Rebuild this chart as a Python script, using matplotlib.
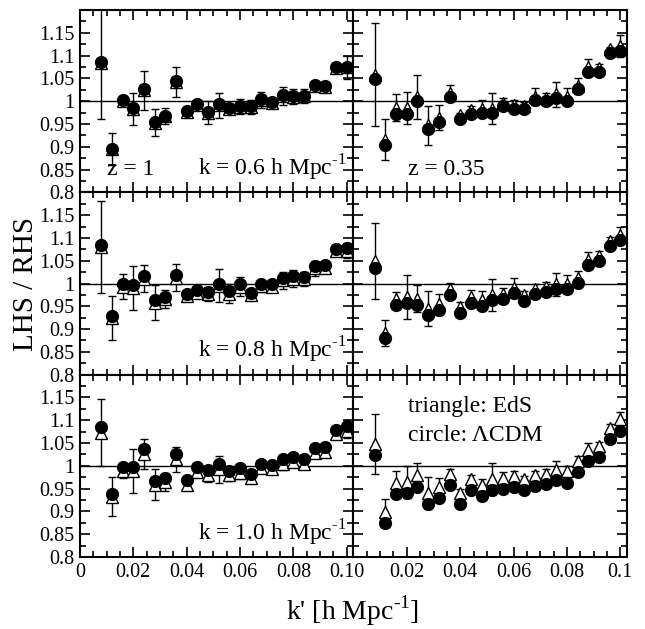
import matplotlib
matplotlib.use('Agg')
import matplotlib.pyplot as plt
from matplotlib.ticker import FixedLocator, FixedFormatter, MultipleLocator

plt.rcParams['font.family'] = ['Liberation Serif', 'DejaVu Serif']
plt.rcParams['mathtext.fontset'] = 'custom'
plt.rcParams['mathtext.rm'] = 'Liberation Serif'

# k' sampling (same in all panels)
k_prime = [0.008, 0.012, 0.016, 0.020, 0.024, 0.028, 0.032, 0.036, 0.040, 0.044, 0.048, 0.052,
           0.056, 0.060, 0.064, 0.068, 0.072, 0.076, 0.080, 0.084, 0.088, 0.092, 0.096, 0.100]

# z = 1, k = 0.6
z1_k06_lcdm = [1.085, 0.896, 1.002, 0.985, 1.026, 0.954, 0.968, 1.045, 0.978, 0.993, 0.976, 0.993,
               0.985, 0.989, 0.989, 1.005, 0.998, 1.014, 1.011, 1.012, 1.035, 1.033, 1.075, 1.075]
z1_k06_eds = [1.083, 0.895, 1.000, 0.983, 1.024, 0.953, 0.967, 1.043, 0.977, 0.991, 0.975, 0.991,
              0.984, 0.988, 0.988, 1.003, 0.997, 1.012, 1.010, 1.011, 1.033, 1.032, 1.073, 1.074]
z1_k06_err = [0.122, 0.035, 0.005, 0.035, 0.043, 0.030, 0.018, 0.033, 0.005, 0.007, 0.025, 0.027,
              0.008, 0.017, 0.015, 0.017, 0.006, 0.020, 0.016, 0.016, 0.008, 0.008, 0.006, 0.025]

# z = 0.35, k = 0.6
z035_k06_lcdm = [1.048, 0.905, 0.973, 0.973, 1.001, 0.938, 0.955, 1.010, 0.960, 0.971, 0.974, 0.974,
                 0.989, 0.982, 0.982, 1.002, 1.000, 1.008, 1.000, 1.026, 1.064, 1.064, 1.105, 1.111]
z035_k06_eds = [1.058, 0.916, 0.986, 0.986, 1.010, 0.947, 0.964, 1.018, 0.969, 0.980, 0.984, 0.984,
                0.996, 0.991, 0.989, 1.010, 1.006, 1.015, 1.010, 1.033, 1.075, 1.072, 1.114, 1.121]
z035_k06_err = [0.113, 0.044, 0.030, 0.035, 0.048, 0.042, 0.028, 0.017, 0.005, 0.010, 0.018, 0.033,
                0.010, 0.012, 0.010, 0.018, 0.012, 0.028, 0.018, 0.018, 0.017, 0.010, 0.006, 0.025]

# z = 1, k = 0.8
z1_k08_lcdm = [1.085, 0.929, 0.998, 0.996, 1.016, 0.963, 0.971, 1.018, 0.978, 0.985, 0.982, 1.000,
               0.983, 0.998, 0.980, 0.999, 0.998, 1.012, 1.016, 1.015, 1.038, 1.040, 1.076, 1.077]
z1_k08_eds = [1.080, 0.924, 0.993, 0.991, 1.011, 0.958, 0.966, 1.013, 0.973, 0.980, 0.977, 0.995,
              0.978, 0.993, 0.975, 0.994, 0.993, 1.007, 1.011, 1.010, 1.033, 1.035, 1.071, 1.072]
z1_k08_err = [0.100, 0.048, 0.028, 0.048, 0.029, 0.038, 0.020, 0.029, 0.010, 0.008, 0.015, 0.036,
              0.020, 0.021, 0.008, 0.012, 0.010, 0.018, 0.018, 0.015, 0.017, 0.008, 0.006, 0.016]

# z = 0.35, k = 0.8
z035_k08_lcdm = [1.034, 0.880, 0.953, 0.958, 0.953, 0.932, 0.942, 0.974, 0.936, 0.958, 0.950, 0.963,
                 0.967, 0.980, 0.961, 0.976, 0.981, 0.987, 0.987, 1.001, 1.040, 1.049, 1.082, 1.095]
z035_k08_eds = [1.049, 0.892, 0.967, 0.970, 0.967, 0.945, 0.954, 0.987, 0.948, 0.970, 0.963, 0.974,
                0.978, 0.991, 0.974, 0.987, 0.992, 0.998, 0.999, 1.012, 1.052, 1.060, 1.093, 1.106]
z035_k08_err = [0.083, 0.029, 0.015, 0.048, 0.030, 0.038, 0.022, 0.015, 0.012, 0.015, 0.020, 0.035,
                0.012, 0.022, 0.010, 0.012, 0.012, 0.025, 0.020, 0.015, 0.018, 0.012, 0.008, 0.018]

# z = 1, k = 1.0
z1_k10_lcdm = [1.085, 0.939, 0.998, 0.998, 1.036, 0.966, 0.974, 1.025, 0.968, 0.997, 0.990, 1.005,
               0.988, 0.996, 0.983, 1.005, 1.002, 1.014, 1.019, 1.015, 1.040, 1.042, 1.078, 1.087]
z1_k10_eds = [1.073, 0.932, 0.988, 0.988, 1.026, 0.959, 0.964, 1.014, 0.959, 0.986, 0.979, 0.992,
              0.979, 0.985, 0.974, 0.996, 0.992, 1.003, 1.008, 1.005, 1.029, 1.031, 1.069, 1.076]
z1_k10_err = [0.074, 0.043, 0.015, 0.048, 0.032, 0.035, 0.020, 0.027, 0.006, 0.010, 0.015, 0.030,
              0.012, 0.015, 0.008, 0.012, 0.010, 0.013, 0.010, 0.013, 0.012, 0.006, 0.006, 0.015]

# z = 0.35, k = 1.0
z035_k10_lcdm = [1.023, 0.875, 0.939, 0.940, 0.954, 0.917, 0.930, 0.957, 0.917, 0.948, 0.933, 0.948,
                 0.949, 0.953, 0.947, 0.955, 0.960, 0.968, 0.963, 0.986, 1.010, 1.019, 1.059, 1.076]
z035_k10_eds = [1.047, 0.898, 0.963, 0.964, 0.979, 0.941, 0.954, 0.981, 0.941, 0.971, 0.957, 0.971,
                0.974, 0.977, 0.970, 0.979, 0.983, 0.990, 0.988, 1.010, 1.034, 1.043, 1.084, 1.102]
z035_k10_err = [0.066, 0.030, 0.025, 0.035, 0.028, 0.035, 0.020, 0.012, 0.008, 0.008, 0.015, 0.035,
                0.012, 0.012, 0.008, 0.010, 0.010, 0.020, 0.012, 0.012, 0.015, 0.010, 0.008, 0.016]

y_ticks = [0.8, 0.85, 0.9, 0.95, 1.0, 1.05, 1.1, 1.15, 1.2]
y_ticklabels = ['0.8', '0.85', '0.9', '0.95', '1', '1.05', '1.1', '1.15', '']
x_ticks = [0.0, 0.02, 0.04, 0.06, 0.08, 0.10]
x_labels_left = ['0', '0.02', '0.04', '0.06', '0.08', '0.10']
x_labels_right = ['', '0.02', '0.04', '0.06', '0.08', '0.1']

panels = [
    [(z1_k06_lcdm, z1_k06_eds, z1_k06_err), (z035_k06_lcdm, z035_k06_eds, z035_k06_err)],
    [(z1_k08_lcdm, z1_k08_eds, z1_k08_err), (z035_k08_lcdm, z035_k08_eds, z035_k08_err)],
    [(z1_k10_lcdm, z1_k10_eds, z1_k10_err), (z035_k10_lcdm, z035_k10_eds, z035_k10_err)],
]
k_labels = [r'k = 0.6 h Mpc$^{\text{-1}}$', r'k = 0.8 h Mpc$^{\text{-1}}$',
            r'k = 1.0 h Mpc$^{\text{-1}}$']

fig, axes = plt.subplots(3, 2, figsize=(6.45, 6.29), dpi=100)
fig.subplots_adjust(left=0.124, right=0.972, top=0.984, bottom=0.1145, hspace=0, wspace=0)

for row in range(3):
    for col in range(2):
        ax = axes[row, col]
        lcdm, eds, err = panels[row][col]
        ax.axhline(1.0, color='black', lw=1, zorder=1)
        ax.errorbar(k_prime, eds, yerr=err, fmt='^', ms=8, mfc='white', mec='black', mew=1,
                    ecolor='black', elinewidth=1, capsize=3, capthick=1, zorder=2)
        ax.plot(k_prime, lcdm, 'o', color='black', ms=8.5, zorder=3)

        ax.set_xlim(0, 0.1025)
        ax.set_ylim(0.8, 1.2)
        ax.yaxis.set_major_locator(FixedLocator(y_ticks))
        ax.yaxis.set_minor_locator(MultipleLocator(0.025))
        ax.xaxis.set_major_locator(FixedLocator(x_ticks))
        ax.xaxis.set_minor_locator(MultipleLocator(0.005))
        ax.tick_params(which='both', direction='in', top=True, right=True, labelsize=14.5, width=1.2)
        ax.tick_params(which='major', length=7, pad=4)
        ax.tick_params(which='minor', length=4)
        for sp in ax.spines.values():
            sp.set_linewidth(1.5)

        if col == 0:
            ax.yaxis.set_major_formatter(FixedFormatter(y_ticklabels))
        else:
            ax.set_yticklabels([])
        if row == 2:
            ax.xaxis.set_major_formatter(FixedFormatter(x_labels_left if col == 0 else x_labels_right))
        else:
            ax.set_xticklabels([])

    axes[row, 0].text(0.975, 0.093, k_labels[row], transform=axes[row, 0].transAxes,
                      ha='right', va='baseline', fontsize=17)

axes[0, 0].text(0.099, 0.093, 'z = 1', transform=axes[0, 0].transAxes,
                ha='left', va='baseline', fontsize=17)
axes[0, 1].text(0.2, 0.093, 'z = 0.35', transform=axes[0, 1].transAxes,
                ha='left', va='baseline', fontsize=17)
axes[2, 1].text(0.2, 0.797, 'triangle: EdS', transform=axes[2, 1].transAxes,
                ha='left', va='baseline', fontsize=17)
axes[2, 1].text(0.2, 0.637, 'circle: \u039bCDM', transform=axes[2, 1].transAxes,
                ha='left', va='baseline', fontsize=17)

fig.text(0.040, 0.549, 'LHS / RHS', rotation=90, ha='center', va='center', fontsize=21)
fig.text(0.546, 0.029, r"k' [h Mpc$^{\text{-1}}$]", ha='center', va='center', fontsize=20)

fig.savefig('out.png', dpi=100)
